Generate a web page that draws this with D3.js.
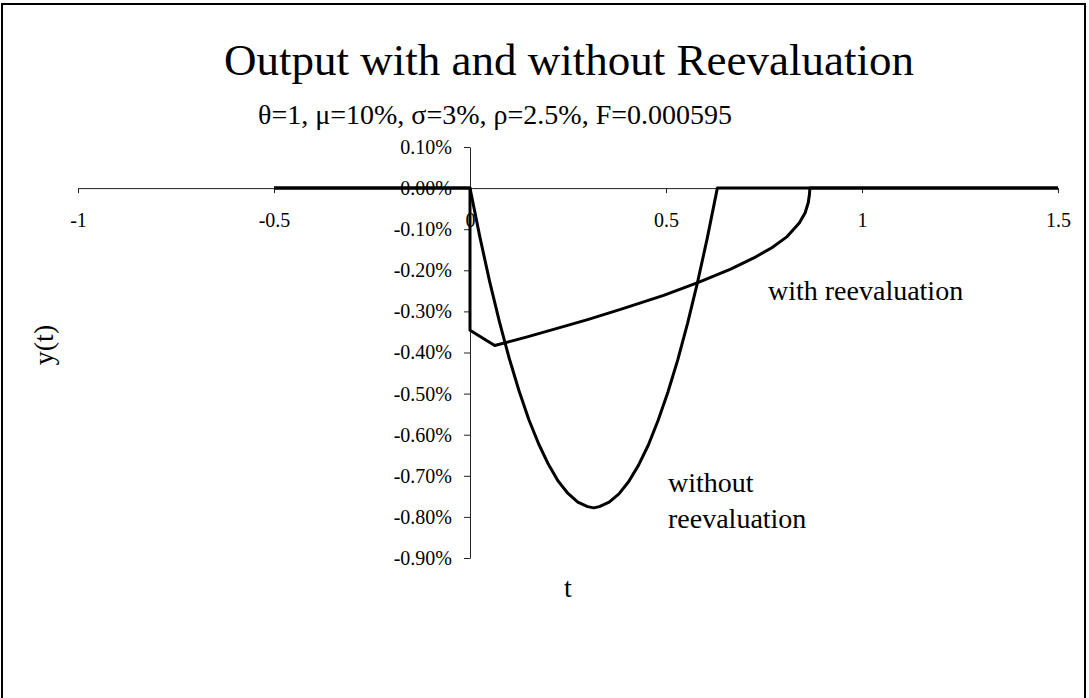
<!DOCTYPE html>
<html>
<head>
<meta charset="utf-8">
<script src="https://cdn.jsdelivr.net/npm/d3@7"></script>
<style>
  body { margin: 0; background: #fff; }
  svg text { font-family: "Liberation Serif", "Times New Roman", serif; fill: #000; }
</style>
</head>
<body>
<svg id="chart"></svg>
<script>
var width = 1089,
height = 698;

// tick labels
var xTicks = [-1, -0.5, 0, 0.5, 1, 1.5];
var yTicks = [0.1, 0, -0.1, -0.2, -0.3, -0.4, -0.5, -0.6, -0.7, -0.8, -0.9];

// y values are in percent
var withoutT = [-0.5, 0, 0.025, 0.05, 0.075, 0.1, 0.125, 0.15, 0.175, 0.2, 0.225, 0.25, 0.275, 0.3, 0.316,
  0.33, 0.355, 0.38, 0.405, 0.43, 0.455, 0.48, 0.505, 0.53, 0.555, 0.58, 0.605, 0.631, 1.5];
var withoutY = [0, 0, -0.118, -0.227, -0.325, -0.414, -0.493, -0.563, -0.622, -0.672, -0.713, -0.743, -0.764, -0.775, -0.778,
  -0.775, -0.764, -0.744, -0.714, -0.674, -0.625, -0.565, -0.496, -0.418, -0.329, -0.231, -0.123, 0, 0];

var withT = [-0.5, 0, 0, 0.063, 0.146, 0.231, 0.3, 0.384, 0.494, 0.581, 0.665, 0.724, 0.77, 0.809, 0.84, 0.855, 0.863, 0.866, 0.867, 1.5];
var withY = [0, 0, -0.346, -0.383, -0.362, -0.339, -0.32, -0.295, -0.261, -0.23, -0.197, -0.17, -0.145, -0.118, -0.085, -0.06, -0.035, -0.015, 0, 0];

var title = "Output with and without Reevaluation";
var subtitle = "\u03b8=1, \u03bc=10%, \u03c3=3%, \u03c1=2.5%, F=0.000595";

function zip(xs, ys){
  var out = [];
  for(var i=0; i<xs.length; i++){
    out.push({t: xs[i], y: ys[i]});
  }
  return out;
}

document.addEventListener('DOMContentLoaded', function() {
  draw();
});

function draw(){
  var svg = d3.select("#chart")
    .attr("width", width)
    .attr("height", height);

  // outer frame
  svg.append("rect")
    .attr("x", 2).attr("y", 4)
    .attr("width", 1083).attr("height", 720)
    .attr("fill", "none")
    .attr("stroke", "#000")
    .attr("stroke-width", 2);

  var x = d3.scaleLinear().domain([-1, 1.5]).range([78, 1058]);
  var y = d3.scaleLinear().domain([-0.9, 0.1]).range([558, 147]);

  svg.append("text")
    .attr("x", 569).attr("y", 75)
    .attr("text-anchor", "middle")
    .style("font-size", "45px")
    .text(title);

  svg.append("text")
    .attr("x", 495).attr("y", 124)
    .attr("text-anchor", "middle")
    .style("font-size", "28px")
    .text(subtitle);

  var xAxis = svg.append("g")
    .attr("transform", "translate(0," + y(0) + ")")
    .call(d3.axisBottom(x).tickValues(xTicks).tickSize(5).tickSizeOuter(0).tickPadding(20)
      .tickFormat(function(d){ return String(d); }));

  var yAxis = svg.append("g")
    .attr("transform", "translate(" + x(0) + ",0)")
    .call(d3.axisLeft(y).tickValues(yTicks).tickSize(6).tickSizeOuter(0).tickPadding(12)
      .tickFormat(function(d){ return d.toFixed(2) + "%"; }));

  svg.selectAll(".tick text")
    .style("font-family", '"Liberation Serif", "Times New Roman", serif')
    .style("font-size", "20px");
  xAxis.selectAll(".tick text").attr("fill", "#000");
  yAxis.selectAll(".tick text").attr("fill", "#000");
  svg.selectAll(".domain, .tick line").attr("stroke", "#222");

  var line = d3.line()
    .x(function(d){ return x(d.t); })
    .y(function(d){ return y(d.y); });

  svg.append("path")
    .datum(zip(withoutT, withoutY))
    .attr("d", line)
    .attr("fill", "none")
    .attr("stroke", "#000")
    .attr("stroke-width", 3)
    .attr("stroke-linejoin", "round");

  svg.append("path")
    .datum(zip(withT, withY))
    .attr("d", line)
    .attr("fill", "none")
    .attr("stroke", "#000")
    .attr("stroke-width", 3)
    .attr("stroke-linejoin", "round");

  // series labels
  svg.append("text").attr("x", 768).attr("y", 300).style("font-size", "28px").text("with reevaluation");
  svg.append("text").attr("x", 668).attr("y", 492).style("font-size", "28px").text("without");
  svg.append("text").attr("x", 668).attr("y", 528).style("font-size", "28px").text("reevaluation");

  // axis titles
  svg.append("text").attr("x", 568).attr("y", 597).attr("text-anchor", "middle").style("font-size", "28px").text("t");
  svg.append("text")
    .attr("transform", "translate(53,345) rotate(-90)")
    .attr("text-anchor", "middle")
    .style("font-size", "28px")
    .text("y(t)");
}
</script>
</body>
</html>
